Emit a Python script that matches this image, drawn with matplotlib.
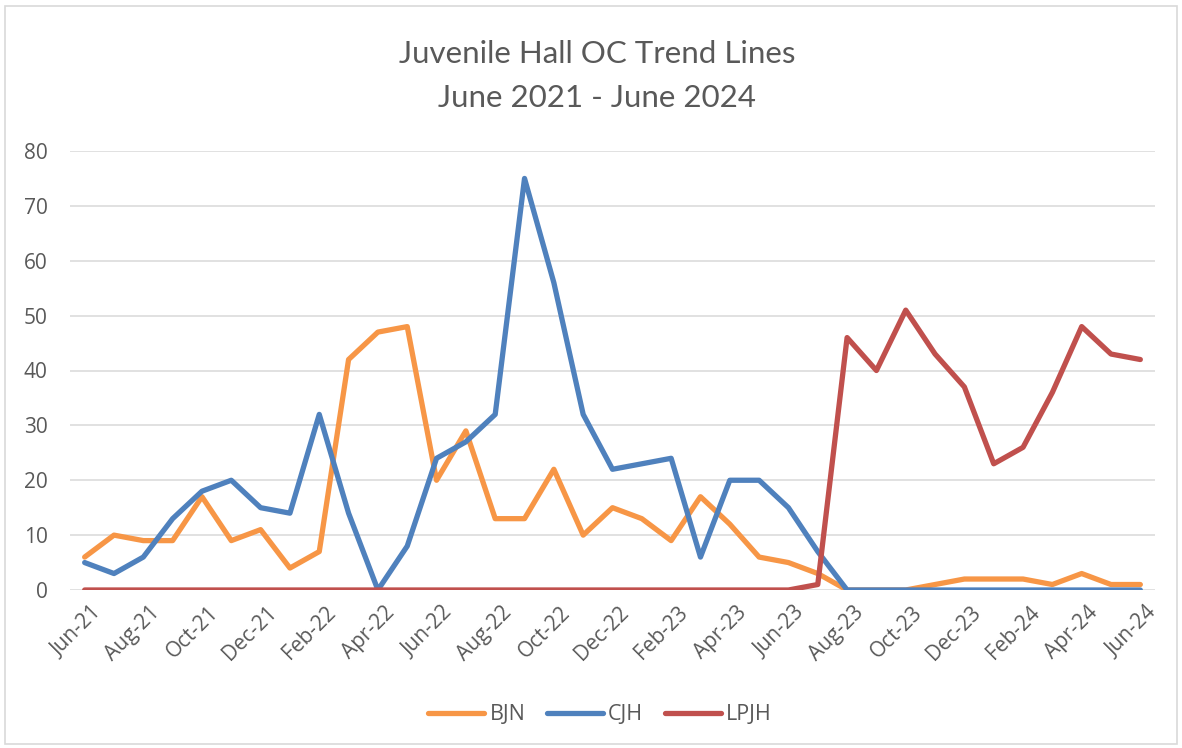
import matplotlib
matplotlib.use("Agg")
import matplotlib.pyplot as plt
import matplotlib.transforms as mtransforms
from matplotlib.patches import Rectangle

months = ["Jun-21", "Jul-21", "Aug-21", "Sep-21", "Oct-21", "Nov-21", "Dec-21",
          "Jan-22", "Feb-22", "Mar-22", "Apr-22", "May-22", "Jun-22", "Jul-22",
          "Aug-22", "Sep-22", "Oct-22", "Nov-22", "Dec-22", "Jan-23", "Feb-23",
          "Mar-23", "Apr-23", "May-23", "Jun-23", "Jul-23", "Aug-23", "Sep-23",
          "Oct-23", "Nov-23", "Dec-23", "Jan-24", "Feb-24", "Mar-24", "Apr-24",
          "May-24", "Jun-24"]

bjn = [6, 10, 9, 9, 17, 9, 11, 4, 7, 42, 47, 48, 20, 29, 13, 13, 22, 10, 15, 13,
       9, 17, 12, 6, 5, 3, 0, 0, 0, 1, 2, 2, 2, 1, 3, 1, 1]
cjh = [5, 3, 6, 13, 18, 20, 15, 14, 32, 14, 0, 8, 24, 27, 32, 75, 56, 32, 22, 23,
       24, 6, 20, 20, 15, 7, 0, 0, 0, 0, 0, 0, 0, 0, 0, 0, 0]
lpjh = [0, 0, 0, 0, 0, 0, 0, 0, 0, 0, 0, 0, 0, 0, 0, 0, 0, 0, 0, 0, 0, 0, 0, 0,
        0, 1, 46, 40, 51, 43, 37, 23, 26, 36, 48, 43, 42]

series_names = ["BJN", "CJH", "LPJH"]
colors = ["#F79646", "#4F81BD", "#C0504D"]
yticks = [0, 10, 20, 30, 40, 50, 60, 70, 80]

W, H = 1182, 748
fig = plt.figure(figsize=(W / 100, H / 100), dpi=100)
fig.patches.append(Rectangle((5 / W, 1 - 744 / H), 1172 / W, 738 / H,
                             transform=fig.transFigure, fill=False,
                             edgecolor="#d9d9d9", linewidth=1.2))

ax = fig.add_axes([70 / W, 1 - 590 / H, (1155 - 70) / W, (590 - 151) / H])
x = list(range(len(months)))
for vals, name, c in zip([bjn, cjh, lpjh], series_names, colors):
    ax.plot(x, vals, color=c, lw=3.8, label=name, solid_joinstyle="round",
            solid_capstyle="round", zorder=3)

ax.set_xlim(-0.5, len(months) - 0.5)
ax.set_ylim(0, 80)
ax.set_yticks(yticks)
ax.set_yticklabels([str(v) for v in yticks])
for v in yticks:
    ax.axhline(v, color="#d9d9d9", lw=1.1, zorder=1)
for s in ax.spines.values():
    s.set_visible(False)
ax.set_xticks(x[::2])
ax.set_xticklabels(months[::2], rotation=45, ha="right", va="top",
                   rotation_mode="anchor")
ax.tick_params(axis="both", length=0, colors="#595959", labelsize=15)
ax.tick_params(axis="y", pad=16)
ax.tick_params(axis="x", pad=9)
offset = mtransforms.ScaledTranslation(6 / 100, 0, fig.dpi_scale_trans)
for lab in ax.get_xticklabels():
    lab.set_transform(lab.get_transform() + offset)
for lab in ax.get_xticklabels() + ax.get_yticklabels():
    lab.set_fontfamily("Open Sans")
    lab.set_color("#595959")

fig.text(597 / W, 1 - 63 / H, "Juvenile Hall OC Trend Lines", ha="center",
         va="baseline", fontsize=22.5, color="#595959", family="Lato")
fig.text(597 / W, 1 - 107 / H, "June 2021 - June 2024", ha="center",
         va="baseline", fontsize=22.5, color="#595959", family="Lato")

leg = fig.legend(loc="center", bbox_to_anchor=(600 / W, 1 - 715 / H), ncol=3,
                 frameon=False, handlelength=2.6, columnspacing=1.0,
                 handletextpad=0.25, prop={"family": "Open Sans", "size": 15.5})
for t in leg.get_texts():
    t.set_color("#595959")

fig.savefig("out.png", dpi=100)
